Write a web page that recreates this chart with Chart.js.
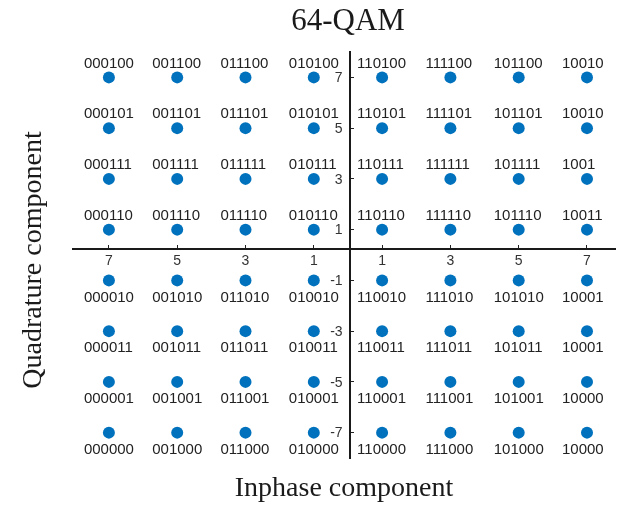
<!DOCTYPE html>
<html>
<head>
<meta charset="utf-8">
<script src="https://cdn.jsdelivr.net/npm/chart.js@4.4.1/dist/chart.umd.min.js"></script>
<style>
    html, body { margin: 0; padding: 0; background: #fff; }
</style>
</head>
<body>
<canvas id="qamChart" width="621" height="508"></canvas>
<script>
// constellation grid: inphase (columns) and quadrature (rows)
const inphase = [-7, -5, -3, -1, 1, 3, 5, 7];
const quadrature = [7, 5, 3, 1, -1, -3, -5, -7];

// bit label of each symbol, row by row (top to bottom), as printed in the figure
const bitLabels = [
    ['000100', '001100', '011100', '010100', '110100', '111100', '101100', '10010'],
    ['000101', '001101', '011101', '010101', '110101', '111101', '101101', '10010'],
    ['000111', '001111', '011111', '010111', '110111', '111111', '101111', '1001'],
    ['000110', '001110', '011110', '010110', '110110', '111110', '101110', '10011'],
    ['000010', '001010', '011010', '010010', '110010', '111010', '101010', '10001'],
    ['000011', '001011', '011011', '010011', '110011', '111011', '101011', '10001'],
    ['000001', '001001', '011001', '010001', '110001', '111001', '101001', '10000'],
    ['000000', '001000', '011000', '010000', '110000', '111000', '101000', '10000']
];

const xTicks = [-7, -5, -3, -1, 1, 3, 5, 7];
const yTicks = [7, 5, 3, 1, -1, -3, -5, -7];

const points = [];
const pointLabels = [];
quadrature.forEach((q, r) => {
    inphase.forEach((i, c) => {
        points.push({ x: i, y: q });
        pointLabels.push(bitLabels[r][c]);
    });
});

// Draws the bit labels, the quadrature tick labels and the three titles
const textPlugin = {
    id: 'qamText',
    afterDatasetsDraw(chart) {
        const ctx = chart.ctx;
        const meta = chart.getDatasetMeta(0);
        ctx.save();
        ctx.font = '15px "Liberation Sans", Arial, sans-serif';
        ctx.fillStyle = '#222';
        ctx.textAlign = 'left';
        ctx.textBaseline = 'middle';
        meta.data.forEach((el, idx) => {
            const above = points[idx].y > 0;
            ctx.fillText(pointLabels[idx], el.x - 25, above ? el.y - 14 : el.y + 17);
        });

        // y tick labels sit left of the crossing axis
        const xs = chart.scales.x, ys = chart.scales.y;
        const axisX = xs.getPixelForValue(0.05);
        ctx.font = '14px "Liberation Sans", Arial, sans-serif';
        ctx.fillStyle = '#333';
        ctx.textAlign = 'right';
        yTicks.forEach(v => {
            ctx.fillText(String(v), axisX - 7, ys.getPixelForValue(v) + 1);
        });
        ctx.restore();
    },
    afterDraw(chart) {
        const ctx = chart.ctx;
        ctx.save();
        ctx.fillStyle = '#1a1a1a';
        ctx.textAlign = 'center';
        ctx.textBaseline = 'middle';

        ctx.font = '31px "Liberation Serif", "Times New Roman", serif';
        ctx.fillText('64-QAM', 348, 22);

        ctx.font = '28px "Liberation Serif", "Times New Roman", serif';
        ctx.fillText('Inphase component', 344, 489);

        ctx.translate(34, 260);
        ctx.rotate(-Math.PI / 2);
        ctx.fillText('Quadrature component', 0, 0);
        ctx.restore();
    }
};

new Chart(document.getElementById('qamChart'), {
    type: 'scatter',
    data: {
        datasets: [{
            data: points,
            backgroundColor: '#0072BD',
            borderWidth: 0,
            pointRadius: 6,
            pointHoverRadius: 6
        }]
    },
    options: {
        responsive: false,
        animation: false,
        devicePixelRatio: 1,
        layout: { padding: { left: 72.7, right: 2, top: 52, bottom: 50 } },
        plugins: {
            legend: { display: false },
            tooltip: { enabled: false }
        },
        scales: {
            x: {
                type: 'linear',
                min: -8.06,
                max: 7.82,
                position: { y: 0.24 },
                afterBuildTicks: scale => { scale.ticks = xTicks.map(v => ({ value: v })); },
                afterFit: scale => {
                    scale.height = 0;
                    scale.paddingLeft = 0;
                    scale.paddingRight = 0;
                },
                grid: { display: true, drawOnChartArea: false, drawTicks: true, tickLength: -5, color: '#222' },
                border: { display: true, color: '#1a1a1a', width: 2 },
                ticks: {
                    callback: v => Math.abs(v),
                    font: { family: '"Liberation Sans", Arial, sans-serif', size: 14 },
                    color: '#333',
                    padding: 9,
                    maxRotation: 0,
                    autoSkip: false
                }
            },
            y: {
                type: 'linear',
                min: -8,
                max: 8,
                position: { x: 0.05 },
                afterBuildTicks: scale => { scale.ticks = yTicks.map(v => ({ value: v })); },
                afterFit: scale => {
                    scale.width = 0;
                    scale.paddingTop = 0;
                    scale.paddingBottom = 0;
                },
                grid: { display: true, drawOnChartArea: false, drawTicks: true, tickLength: -5, color: '#222' },
                border: { display: true, color: '#1a1a1a', width: 2 },
                ticks: { display: false, autoSkip: false }
            }
        }
    },
    plugins: [textPlugin]
});
</script>
</body>
</html>
